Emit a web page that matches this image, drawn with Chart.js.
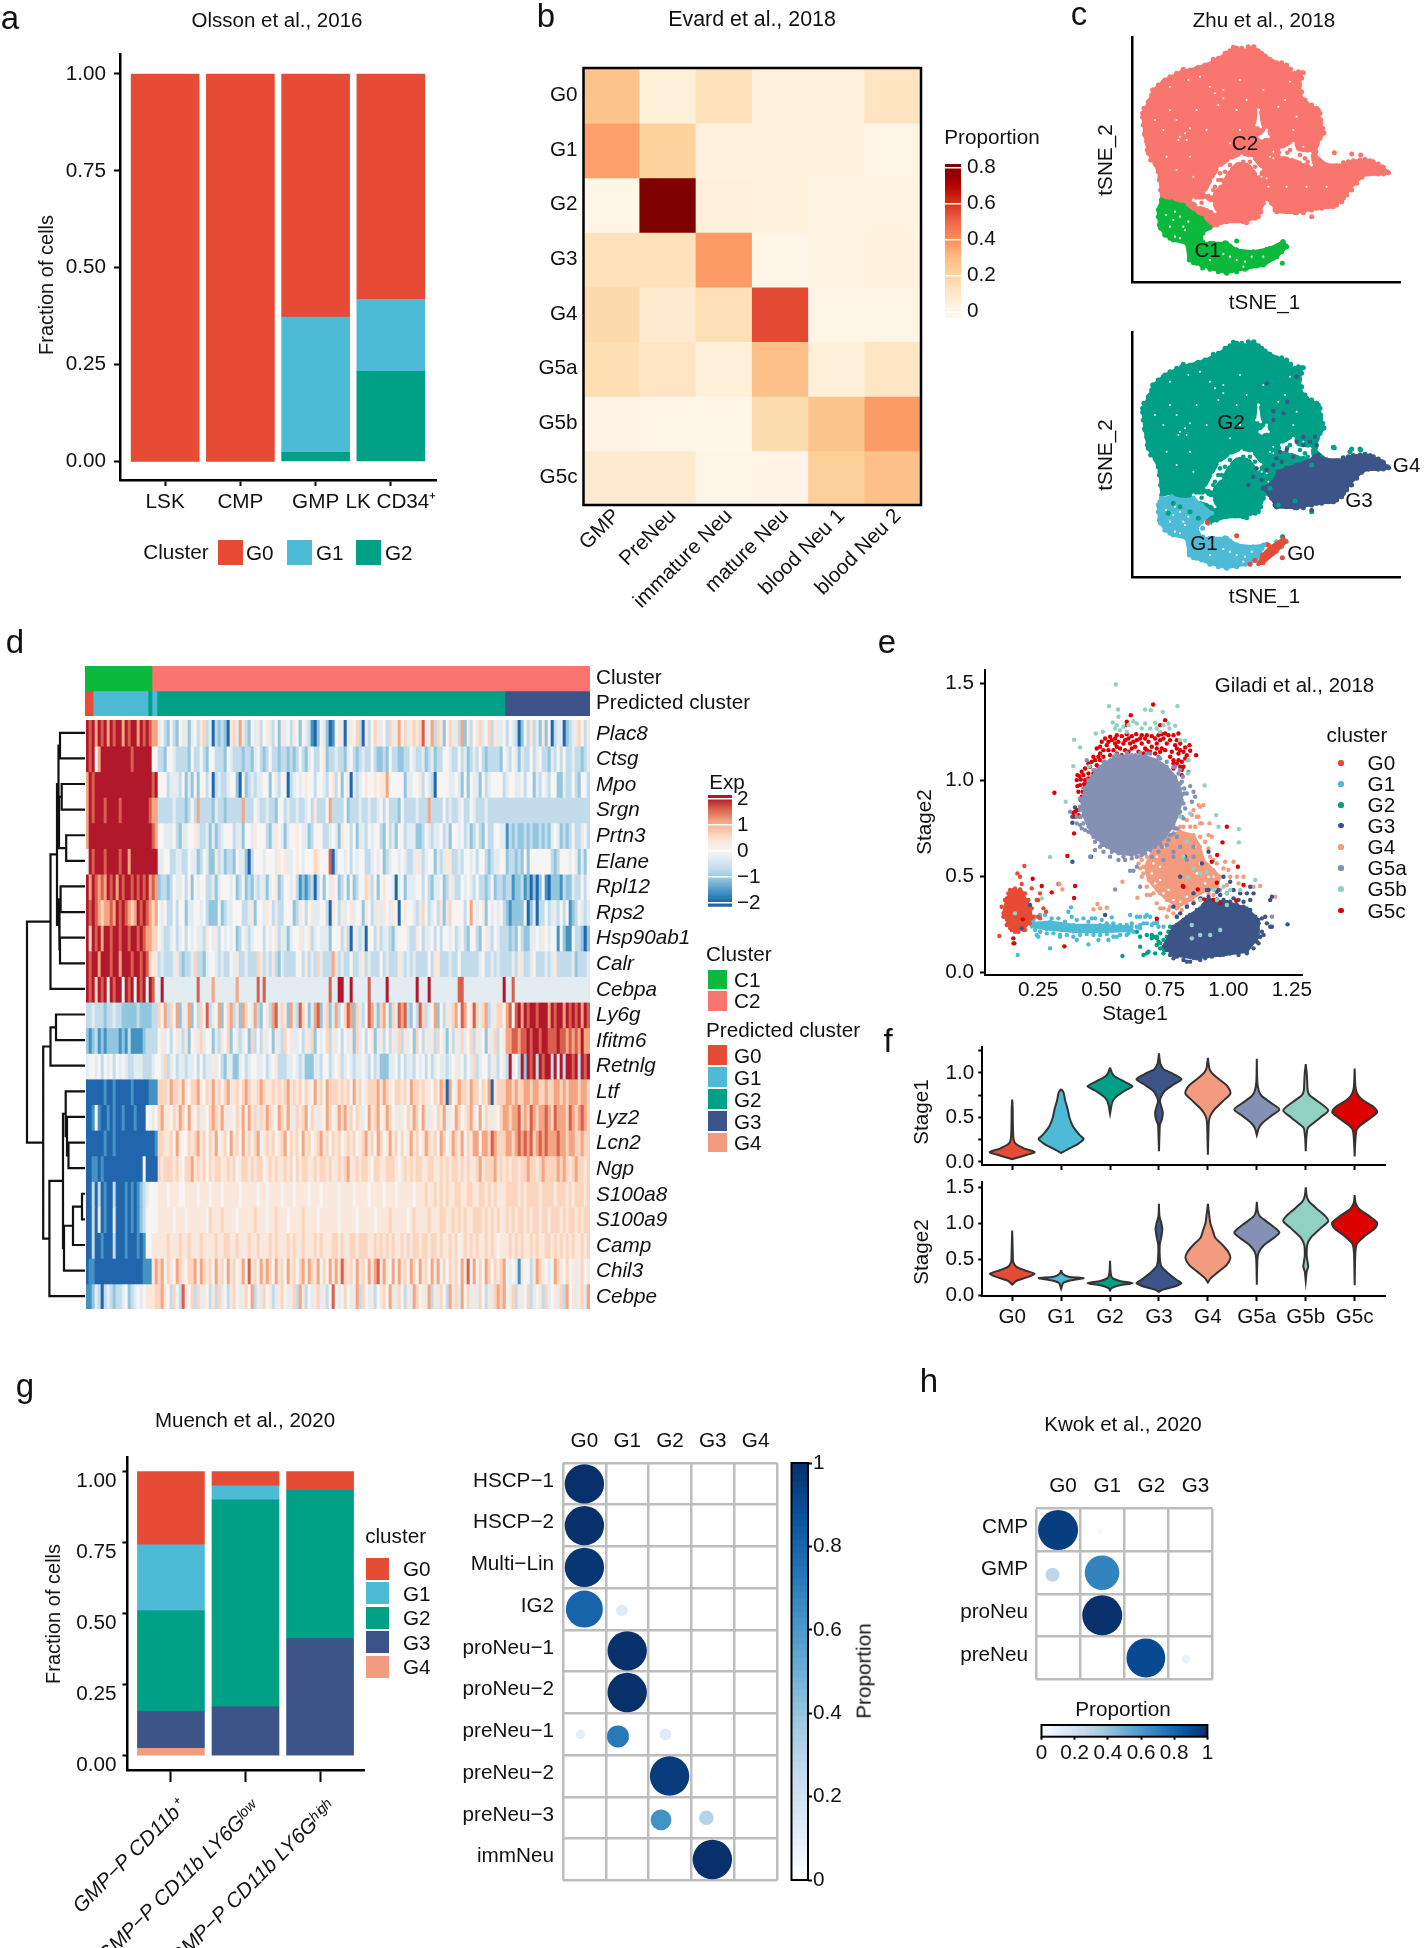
<!DOCTYPE html>
<html><head><meta charset="utf-8">
<script src="https://cdn.jsdelivr.net/npm/chart.js@4"></script>
<style>
html,body{margin:0;background:#fff;width:1424px;height:1948px;overflow:hidden}
canvas{position:absolute;left:0;top:0;pointer-events:none}
.t{position:absolute;white-space:nowrap;color:#111;font-family:"Liberation Sans",Arial,sans-serif;line-height:1;z-index:50}
.s{position:absolute;z-index:50}
</style></head><body>
<script>
/* ---------- palette ---------- */
const NPG={G0:'#E64B35',G1:'#4DBBD5',G2:'#00A087',G3:'#3C5488',G4:'#F39B7F',G5a:'#8491B4',G5b:'#91D1C2',G5c:'#DC0000'};
const C1col='#0DB93C',C2col='#F8766D';

/* ---------- panel a ---------- */
const aCategories=['LSK','CMP','GMP','LK CD34⁺'];
const aG0=[1,1,0.627,0.582];
const aG1=[0,0,0.349,0.185];
const aG2=[0,0,0.024,0.233];

/* ---------- panel b ---------- */
const bCols=['GMP','PreNeu','immature Neu','mature Neu','blood Neu 1','blood Neu 2'];
const bRows=['G0','G1','G2','G3','G4','G5a','G5b','G5c'];
const bValues=[
[.27,.05,.13,.04,.04,.12],
[.36,.20,.04,.04,.035,.015],
[.01,.80,.05,.04,.025,.03],
[.13,.13,.37,.01,.03,.035],
[.17,.08,.14,.55,.015,.015],
[.15,.11,.05,.28,.05,.11],
[.02,.01,.01,.16,.26,.37],
[.08,.08,.015,.02,.22,.28]];

/* ---------- panel c (t-SNE coordinates) ---------- */
const cC2=[[320,55],[345,62],[370,52],[395,70],[430,95],[470,108],[490,135],[515,128],[508,165],[510,195],[530,220],[565,240],[572,280],[580,310],[562,340],[555,375],[590,405],[640,405],[670,392],[720,392],[755,410],[775,428],[745,432],[700,435],[660,475],[640,505],[610,530],[560,535],[500,548],[440,545],[420,510],[405,505],[385,560],[340,575],[290,575],[240,592],[215,565],[190,550],[160,525],[125,505],[95,510],[90,440],[75,400],[55,370],[45,315],[38,250],[60,210],[70,180],[105,150],[155,125],[200,115],[250,95],[290,70]];
const cEdgeMain=[[300,62],[310,52],[335,55],[355,50],[372,50],[385,62],[405,78],[420,88],[440,98],[455,98],[470,105],[482,118],[495,130],[505,125],[520,128],[515,145],[508,160],[515,185],[525,210],[545,225],[560,235],[570,250],[572,270],[578,295],[582,308],[570,325],[560,345],[558,365],[412,505],[400,520],[392,545],[375,565],[350,578],[315,572],[280,575],[260,585],[240,590],[98,505],[92,480],[88,450],[85,425],[78,405],[62,390],[52,360],[50,335],[44,310],[40,285],[38,262],[42,235],[55,215],[65,195],[68,180],[85,165],[100,155],[120,140],[140,130],[160,118],[180,120],[205,112],[225,105],[250,88],[265,85],[285,70]];
const cEdgeTail=[[565,390],[580,402],[600,408],[620,408],[640,398],[655,395],[690,390],[705,388],[730,395],[745,402],[760,412],[772,425],[760,432],[735,430],[715,432],[695,442],[680,460],[665,480],[650,495],[635,515],[620,525],[595,530],[575,535],[545,540],[520,548],[495,548],[470,545],[450,540],[435,540],[425,520]];
const cOut=[[613,368],[665,372],[692,375],[640,410],[545,560],[45,312],[75,390],[130,500]];
const cHole1=[[335,378],[365,385],[392,418],[385,432],[358,398],[322,393],[295,418],[272,460],[245,492],[230,488],[250,450],[270,415],[302,392]];
const cHole2=[[385,240],[392,290],[380,285]];
const cHole3=[[455,360],[490,340],[500,365],[540,370],[545,405],[520,395],[480,380],[455,375]];
const cHole4=[[190,510],[225,510],[245,520],[255,545],[240,535],[205,525]];
const cHole5=[[390,320],[410,300],[415,320],[395,325]];
const cHoleDots=[[270,430],[285,425],[265,450],[255,470],[275,450],[300,405],[340,395],[360,395],[375,410],[250,480],[480,360],[525,385],[510,375],[215,518],[472,368],[533,395]];
const cSpecks=[[150,320],[165,310],[180,295],[280,180],[265,225],[140,270],[240,170],[175,150],[120,170],[480,155],[430,365],[420,380],[395,440],[410,445],[465,210],[180,380],[300,340],[505,380],[520,350],[280,205],[170,330],[145,330],[385,265],[430,385],[210,140],[255,190],[330,150],[400,180],[445,230],[500,260],[120,240],[100,300],[75,270],[200,240],[320,240],[350,210],[110,380],[140,420],[190,440],[415,470],[470,470],[530,470],[590,470],[230,300],[330,300],[490,300]];
const cC1=[[95,510],[125,515],[160,525],[190,550],[215,565],[240,592],[215,610],[215,640],[250,640],[290,640],[320,660],[370,665],[420,655],[460,635],[470,650],[440,680],[400,705],[350,715],[290,728],[240,715],[200,700],[178,690],[170,640],[130,630],[105,615],[88,585],[85,540]];
const cC1Edge=[[90,530],[85,560],[92,595],[105,615],[120,625],[160,630],[175,650],[178,680],[190,698],[215,705],[240,718],[265,725],[290,730],[320,725],[345,718],[380,708],[405,700],[430,685],[455,665],[468,648],[458,635],[440,650],[410,658],[385,668],[350,668],[320,660],[300,648],[285,638],[265,645],[240,640],[218,635],[218,610],[235,595]];
const cC1Out=[[320,633],[218,714],[457,700]];
const cC1Specks=[[135,620],[150,625],[165,600],[175,575],[160,590],[130,570],[300,680],[340,710],[280,672],[135,545],[120,590],[150,560],[240,690],[365,680],[345,695],[320,690],[400,680],[108,555]];
const cG1=[[95,520],[125,515],[160,525],[190,520],[215,540],[245,565],[215,590],[200,610],[215,640],[250,640],[290,640],[320,660],[370,665],[400,660],[395,690],[360,715],[290,728],[240,715],[200,700],[178,690],[170,640],[130,630],[105,615],[88,585],[85,540]];
const cG2Dots=[[610,367],[660,380],[690,372],[445,540],[495,528],[420,490],[545,420],[520,400],[115,565],[150,545],[180,560],[205,580],[130,535],[458,635]];
const cG3=[[555,395],[590,405],[640,405],[670,392],[720,392],[755,410],[775,428],[745,432],[700,435],[660,475],[640,505],[610,530],[560,535],[500,548],[440,545],[420,510],[400,490],[430,470],[445,440],[470,430],[500,420],[530,410]];
const cG3Dots=[[410,175],[500,155],[472,230],[460,265],[430,258],[430,285],[520,335],[555,335],[500,350],[450,380],[470,375],[440,400],[380,430],[355,480],[370,455],[395,465],[520,360],[560,360],[545,555],[430,420],[455,410],[490,395],[410,435],[540,350]];
const cG0=[[460,640],[470,650],[440,680],[400,715],[385,718],[395,690],[420,665]];
const cG0Dots=[[320,632],[457,698],[415,660],[360,718],[375,706],[232,592]];

/* ---------- panel d ---------- */
const dGenes=['Plac8','Ctsg','Mpo','Srgn','Prtn3','Elane','Rpl12','Rps2','Hsp90ab1','Calr','Cebpa','Ly6g','Ifitm6','Retnlg','Ltf','Lyz2','Lcn2','Ngp','S100a8','S100a9','Camp','Chil3','Cebpe'];
/* one character per column (3 px-wide block of cells) : level index into dLevels */
const dLevels={'0':-2,'1':-1.6,'2':-1.1,'3':-.7,'4':-.3,'5':0,'6':.3,'7':.6,'8':1.1,'9':1.6,'r':2};
const fit=(s,n)=>s.padEnd(n,s).slice(0,n);
const dRowParts=[
["r9r8r9r8r9rr8r9rr8r9r988","453253254624536734032320674863254635643526453652543102542015640465730635764537468574676794683762574638263567457364","354302536342625034402346753657"],
["r9r58rrrrrrrrrr9rrrrrr55","3325543333253353255333254333233245323533233232353245335623343324532343353223253322335433423423355433534234353233","4354243353453324353533433234335"],
["8r9rrrrrrrrrrrrrrrrrrr9r","5553444352425255350343345520523434455254355034545655355435635254043456556566855555244556354305555445425254425345","4554453552435435522433532553543"],
["8r9rrr9rrrr9rrrrrrrrr988","3333343332353833332433233333833354334332553433433453633358333352333433433453533325333343338333353433453354333433","3333333333333333333333333333"],
["8rrrrrrrrrrrrrrrrrrrrr98","5544453244556433424234555344255465553246542455654423555334542655352443545532534255344422354344534255453423532533","1323223232232324542323533453234"],
["5r9rrr9rrrr9rr8rrrrrrrrr","4455334433544235422634233254420355545554656445654555765559035545354553345452345545433464345524346633435545355323","2332325255555553235554542425544"],
["r8r9898r9r8r9rr9r9r9r898","2332354453525455334245554523523243442456235545312123035254652352523557635256554045244455353244523643354543533235","3312231202025102221322433535334"],
["r9r9878898r9r9878r9r9878","5453353552445545322252344555334625546534335552365356445530653645645526534646546505655434753453624755553585456254","2122225024033534435351235434245"],
["r7r9r8rr9rr9rr9rr9r98877","5433453453545443654635454523543455535456344245564563454442555363064340553634432455543365344535355453453255325643","3232532244546545515211533202435"],
["r9rr8rrr9rr8rrr9rr9r9766","3433346323347332455434335463343337634363243333553634374333863433533463433353433364343433335366333433533333345334","3343643345333434633333423334343"],
["r9r7r9r5r9rr5r9r5r9r5r95","4r44444444444944448444444484444449494444444444444444444449"+"44rr44r44444944444r444444444r444r44444444499444444444444","4494444444444444444444444444494444444"],
["334333233433222223222233","758375824682537593458257836287548325638947628439752489267248357982743598427852749893253973458253647859856974783467","8959r8r9rr9rrr8r9rr8r9r9r8r9"],
["212312122221213111123333","564535643625647455243657254345273536452643756445364725457364535462745356246353647364527536463754253647457364526473","8899899r9rr9rr999r9989898r88"],
["455453545354543344433345","547345344344535344645324422453455445345633344543422244355345634543445435342224453534435453534544345645354734553643","3r453r2r9r3r9rr3r4r3rr9r3r9r"],
["000000100100000100000111","777687768657786576867578667578766787667676786767576586758777676758675677786876577675877676657687085687768775768067","8878778878877877887878887887"],
["001510010100100010005545","786657687586574657876864657685867476876587686476785764658756878675764586785687564657687586465768465875678658576465","8788978798788987988879878987"],
["000000100100000000000001","776675865576786757685675867586757856767567857675867567867576756767567867587568675756867568767587568768576885887987","8878989897898988898878877877"],
["001101000000000000050000","767776765778676757677667675677676775676766767576776676776766767866767765776677765676767766776676767767676678677786","7677677877678777787876787767"],
["003030100300010101234555","666566655666656665666566666566666566566665666566665666566666566665666656666566656666656667667676766776677667767676","7777676777767777677767677767"],
["003040100400010101235555","666665666566666657666766665666667666566766656666766665666666566666566666566667666665676666766677667676766777676767","7676776767767767776767767677"],
["003001000300010001015566","666766676676667666676677667666766766676766676766766676766677676677677766767676766767677677677676676756767676676765","6767676676766776767676766767"],
["011000000000000000011168","785765876577858767586758675685967586875867586757858768575868697675867586896865858675875867586857576758695857587576","5454165536876545876575646756"],
["112430343233452345456667","786537539657374653637453675467583647563467546738635467463595457546837546356758647536487564836475386748574647536478","5673645734563745647385646748"]
];
const dRows=dRowParts.map(([l,m,g])=>fit(l,24)+fit(m,116)+fit(g,28));
/* cell-count segments of the two annotation strips */
const dCluster=[['C1',0,67,C1col],['C2',67,505,C2col]];
const dPredicted=[['G0',0,8,NPG.G0],['G1',8,63,NPG.G1],['G2',63,67,NPG.G2],['G1',67,72,NPG.G1],['G2',72,420,NPG.G2],['G3',420,505,NPG.G3]];
/* dendrogram: [merge height, left, right], leaves are gene indices */
const dTree=[58,
 [34.5,[28,[26.5,[25,0,1],[26,[23.3,2,3],[18.8,4,5]]],[26,[24.4,6,7],[25,8,9]]],10],
 [41.8,[34.5,[29,11,12],13],
  [35.6,[22,[19.3,14,[18,15,[16.5,16,17]]],[21,[12,[3,18,19],20],21]],22]]];

/* ---------- panel e (positions, converted below) ---------- */
const ePoly={
G5a:[[515,285],[555,288],[590,300],[620,320],[645,350],[660,385],[665,420],[655,460],[640,495],[615,530],[585,560],[550,575],[515,585],[475,580],[440,560],[410,535],[385,500],[370,465],[365,425],[375,385],[395,350],[420,320],[450,300],[480,288]],
G3:[[740,720],[800,725],[860,745],[895,780],[895,830],[860,875],[790,885],[700,895],[640,885],[610,860],[640,800],[680,770],[720,745]],
G4:[[620,530],[660,515],[700,525],[720,560],[730,600],[760,630],[780,650],[770,680],[720,700],[690,720],[655,740],[620,720],[590,690],[565,660],[555,620],[575,575],[600,545]],
G0:[[160,690],[185,695],[210,740],[215,775],[190,810],[150,805],[130,760],[140,715]],
G1:[[210,790],[270,785],[340,795],[420,795],[515,800],[515,812],[440,815],[340,815],[260,808],[215,800]]};
const eG4Gaps=[[590,590],[575,640],[600,660],[585,670],[705,560],[720,610],[745,650],[640,720],[610,700],[700,700],[680,710],[610,560],[735,670],[760,650],[600,620],[710,640],[580,610],[625,690],[660,725]];
const eDots={
G5b:[[467,73],[447,138],[474,148],[555,148],[572,150],[608,155],[652,138],[475,170],[458,187],[505,195],[520,183],[530,190],[555,190],[585,188],[610,195],[645,197],[465,205],[480,210],[500,215],[570,205],[600,215],[628,205],[407,220],[428,215],[342,239],[360,262],[675,242],[340,318],[388,318],[317,425],[685,300],[683,340],[733,376],[768,465],[775,500],[836,507],[836,547],[270,591],[885,660],[683,652],[700,625],[720,640],[740,635],[680,545],[670,590],[760,690],[790,680],[810,690],[770,720],[720,720],[800,735],[695,795],[750,825],[780,810],[720,825],[695,835],[165,760],[245,715],[660,470],[690,460],[800,700],[840,690],[490,200],[470,195],[545,205],[590,205],[625,190],[660,240]],
G5a:[[660,370],[672,385],[690,378],[700,395],[680,400],[705,410],[665,405],[695,425],[675,445],[660,455],[670,475],[650,505],[640,520],[625,540],[605,560],[595,575],[575,590],[555,580],[530,590],[515,595],[495,600],[475,600],[450,590],[430,575],[420,560],[405,570],[390,590],[375,510],[360,495],[350,490],[330,455],[365,505],[350,470],[360,450],[380,300],[400,330],[645,320],[660,330],[668,350],[685,335],[683,300],[510,632],[520,632],[465,688],[540,680],[935,770],[700,590],[680,600],[640,575],[640,590],[610,600],[660,560],[700,560],[530,620],[410,510],[395,520],[430,555],[405,545],[620,555],[650,530],[525,285],[470,283],[560,280],[600,295],[435,305],[360,440],[362,470],[370,490],[385,515],[400,530],[425,550],[455,575],[490,590],[545,585],[570,570],[600,550],[630,525],[645,505],[665,470],[670,430],[672,400],[665,365],[655,340],[640,320],[620,305],[595,290],[570,280],[540,278],[500,278],[460,290],[430,305],[405,330],[385,360],[370,385],[360,415]],
G5c:[[410,265],[420,260],[430,270],[440,255],[445,245],[455,240],[465,235],[475,245],[470,260],[460,270],[480,265],[490,250],[495,240],[505,235],[510,250],[520,245],[515,265],[530,240],[540,235],[545,250],[555,235],[560,225],[565,245],[575,260],[570,275],[585,235],[590,250],[600,240],[610,235],[615,220],[625,225],[620,250],[630,240],[605,265],[585,280],[555,265],[535,275],[495,270],[470,280],[450,285],[430,290],[650,265],[660,270],[670,275],[680,285],[655,280],[640,300],[630,290],[660,320],[665,330],[640,325],[420,300],[405,300],[410,315],[395,305],[390,320],[400,340],[385,340],[370,345],[358,348],[375,360],[385,355],[360,375],[375,380],[392,370],[368,395],[385,395],[378,410],[365,410],[372,430],[380,440],[355,465],[340,458],[345,470],[425,245],[435,235],[450,230],[470,225],[485,228],[500,222],[515,228],[528,222],[545,225],[575,228],[595,225],[605,222],[640,225],[650,240],[645,255],[660,250],[675,262],[690,272],[675,295],[665,305],[650,310],[635,275],[615,270],[600,275],[590,265],[560,270],[550,280],[525,260],[505,275],[485,285],[465,250],[445,270],[420,280],[415,290],[400,290],[385,310],[375,325],[365,335],[352,345],[350,360],[362,358],[372,372],[352,378],[380,372],[395,355],[405,345],[415,320],[355,395],[362,420],[375,445],[385,425],[395,400],[345,455],[352,450],[360,470],[430,545],[440,555],[420,525],[405,520],[640,310],[655,300],[665,345],[670,320],[579,133],[512,165],[500,185],[615,180],[600,195],[500,195],[655,220],[688,255],[708,285],[283,398],[322,588],[800,500],[787,547],[771,585],[755,605],[833,620],[770,668],[713,688],[850,675],[780,730],[732,718],[670,680],[345,678],[218,656],[245,678],[275,697],[313,859],[342,714],[342,520],[415,535],[668,678],[828,722],[760,720],[160,835],[163,850],[188,778],[590,776]],
G3:[[620,870],[630,885],[650,890],[670,900],[690,905],[710,895],[735,892],[755,890],[780,885],[810,880],[835,885],[860,880],[880,865],[890,845],[900,830],[905,815],[895,790],[885,770],[870,750],[850,740],[830,735],[810,725],[790,720],[770,718],[750,720],[730,735],[710,750],[690,765],[670,780],[650,795],[635,815],[625,840],[615,855],[700,700],[740,690],[770,695],[800,700],[820,690],[840,700],[860,700],[880,700],[870,720],[820,715],[850,725],[905,775],[915,770],[920,790],[930,800],[910,825],[895,850],[660,760],[680,740],[700,730],[650,770],[720,715],[745,710],[780,705],[337,605],[393,590],[337,470],[337,488],[345,442],[435,765],[982,793],[935,710],[930,720],[935,800],[870,680],[835,720],[810,665],[790,650],[745,575],[725,610],[660,650],[675,590],[640,740],[745,690],[775,690],[185,805],[210,735],[680,905],[720,900],[640,895]],
G4:[[545,600],[560,590],[550,640],[540,625],[560,680],[580,700],[570,705],[590,730],[610,745],[625,750],[640,760],[650,745],[665,750],[680,735],[700,725],[725,715],[745,700],[760,705],[780,690],[800,675],[810,650],[790,625],[770,610],[750,590],[745,565],[735,545],[720,530],[745,525],[725,490],[715,470],[695,465],[680,480],[670,500],[655,510],[640,505],[690,500],[705,500],[720,440],[730,435],[700,450],[487,665],[532,713],[560,705],[600,745],[620,770],[650,770],[720,490],[748,490],[710,470],[755,530],[655,465],[715,435],[660,500],[760,600],[795,605],[820,605],[830,650],[850,650],[880,680],[900,678],[945,710],[805,630],[835,670],[540,590],[550,620],[535,610],[545,650],[600,700],[630,740],[298,672],[307,688],[400,748],[412,732],[420,745],[440,743],[600,530],[585,550],[570,565]],
G2:[[620,830],[590,830],[565,875],[585,880],[560,880],[600,850],[540,860],[600,820],[530,815],[560,825],[580,830],[612,870],[487,888],[575,835],[595,845],[610,840],[640,825],[655,825],[735,895],[575,825],[590,835],[600,865],[610,880],[550,885],[540,830],[590,855],[625,815],[630,800]],
G1:[[173,885],[270,865],[385,853],[415,840],[235,830],[230,825],[333,742],[325,755],[395,775],[455,772],[510,765],[540,770],[560,765],[590,790],[610,800],[530,800],[550,790],[575,795],[505,820],[540,805],[300,830],[350,840],[445,840],[470,830],[240,765],[225,770],[210,790],[220,780],[240,770],[255,765],[275,775],[295,775],[315,785],[335,770],[350,780],[370,775],[385,785],[405,775],[425,780],[440,790],[460,790],[480,795],[500,795],[515,790],[520,815],[500,825],[480,825],[460,830],[440,822],[420,825],[400,825],[380,822],[360,825],[340,830],[320,825],[300,825],[280,820],[260,820],[240,815],[225,810],[540,795],[560,790],[580,790],[595,800],[530,770],[555,770],[570,770],[590,785]],
G0:[[150,690],[165,685],[180,688],[195,700],[205,720],[215,745],[220,770],[210,790],[195,810],[175,815],[155,810],[140,795],[130,770],[125,740],[135,720],[145,700],[193,618],[172,640],[180,650],[185,672],[215,685],[240,700],[235,720],[250,745],[258,755],[235,770],[118,828],[160,850],[165,815],[230,720],[212,745],[295,672],[240,775]]};
const eClusters=['G0','G1','G2','G3','G4','G5a','G5b','G5c'];

/* ---------- panel f : violin profiles [stage value, half width] ---------- */
const fStage1={
G0:[[.70,0],[.6,.01],[.4,.015],[.25,.03],[.2,.08],[.15,.25],[.11,.46],[.08,.3],[.05,.12],[.03,0]],
G1:[[.82,0],[.78,.05],[.7,.08],[.6,.13],[.5,.17],[.4,.24],[.3,.38],[.26,.46],[.2,.34],[.15,.16],[.11,.03],[.1,0]],
G2:[[1.06,0],[1.0,.04],[.96,.1],[.9,.3],[.85,.46],[.8,.3],[.72,.1],[.66,.04],[.54,0]],
G3:[[1.22,0],[1.1,.03],[1.04,.1],[1.0,.25],[.93,.46],[.87,.3],[.8,.12],[.73,.04],[.68,.02],[.6,.06],[.55,.08],[.48,.06],[.42,.02],[.3,.01],[.12,0]],
G4:[[1.17,0],[1.05,.03],[1.0,.08],[.92,.25],[.85,.4],[.77,.46],[.7,.34],[.6,.15],[.52,.05],[.45,.02],[.3,.01],[.08,0]],
G5a:[[1.16,0],[.9,.01],[.8,.04],[.74,.1],[.66,.3],[.59,.46],[.52,.3],[.44,.12],[.38,.04],[.3,0]],
G5b:[[1.1,0],[1.0,.02],[.9,.03],[.8,.04],[.75,.08],[.68,.25],[.58,.46],[.5,.3],[.42,.12],[.38,.04],[.25,.01],[.12,0]],
G5c:[[1.05,0],[.85,.015],[.77,.05],[.7,.15],[.63,.36],[.56,.46],[.5,.34],[.42,.14],[.36,.04],[.2,.01],[.06,0]]};
const fStage2={
G0:[[.9,0],[.6,.012],[.47,.02],[.4,.08],[.35,.25],[.3,.46],[.25,.3],[.2,.08],[.15,0]],
G1:[[.35,0],[.3,.03],[.26,.15],[.24,.46],[.21,.2],[.17,.04],[.09,0]],
G2:[[.48,0],[.3,.015],[.24,.05],[.2,.2],[.17,.46],[.14,.2],[.1,.03],[.07,0]],
G3:[[1.27,0],[1.1,.01],[1.0,.05],[.92,.07],[.82,.05],[.7,.015],[.5,.02],[.4,.05],[.3,.2],[.22,.35],[.17,.46],[.12,.3],[.08,.08],[.05,0]],
G4:[[1.27,0],[1.1,.03],[1.0,.05],[.9,.1],[.8,.15],[.7,.3],[.6,.42],[.52,.46],[.42,.38],[.32,.2],[.24,.06],[.18,0]],
G5a:[[1.3,0],[1.18,.015],[1.1,.06],[1.0,.25],[.92,.4],[.87,.46],[.8,.35],[.7,.15],[.6,.04],[.5,.012],[.15,0]],
G5b:[[1.5,0],[1.38,.02],[1.3,.07],[1.2,.23],[1.1,.4],[1.03,.46],[.93,.3],[.8,.1],[.7,.03],[.55,.02],[.45,.04],[.4,.05],[.33,.02],[.2,0]],
G5c:[[1.39,0],[1.28,.02],[1.2,.09],[1.1,.3],[1.02,.45],[.98,.46],[.92,.4],[.82,.2],[.72,.05],[.6,.015],[.14,0]]};

/* ---------- panel g ---------- */
const gCategories=['GMP−P CD11b⁺','GMP−P CD11b LY6Gˡᵒʷ','GMP−P CD11b LY6Gʰⁱᵍʰ'];
const gG0=[.258,.05,.066];
const gG1=[.231,.049,0];
const gG2=[.356,.729,.522];
const gG3=[.129,.172,.412];
const gG4=[.026,0,0];
const gDotCols=['G0','G1','G2','G3','G4'];
const gDotRows=['HSCP−1','HSCP−2','Multi−Lin','IG2','proNeu−1','proNeu−2','preNeu−1','preNeu−2','preNeu−3','immNeu'];
/* [column, row, proportion, radius] */
const gDots=[[0,0,1,19.7],[0,1,1,19.7],[0,2,.98,19.7],[0,3,.8,18.5],[.876,3.03,.12,5.9],[1,4,1,19.7],[1,5,1,19.7],
[-.09,6,.1,4.8],[.784,6.05,.72,11],[1.895,6,.13,5.9],[1.99,7,.96,19.7],[2.93,7.03,.02,2],[1.79,8.05,.62,10.4],[2.85,8,.3,7.3],[-.02,8,.02,1.5],[2.99,9,1,19.7],[-.02,9,.02,1.5],[.95,2,.02,1.5],[-.05,4,.01,1.2]];

/* ---------- panel h ---------- */
const hCols=['G0','G1','G2','G3'];
const hRows=['CMP','GMP','proNeu','preNeu'];
const hDots=[[0,0,.95,20],[.949,.02,.03,3],[-.126,1.05,.28,7],[.996,1,.68,17.3],[1,2,1,20],[1.988,3,.9,19.4],[2.9,3.03,.08,4.4]];

/* ---------- helpers ---------- */
const FS=20.7,TS=20.5;
Chart.defaults.font.family='"Liberation Sans",Arial,sans-serif';
Chart.defaults.font.size=FS;
Chart.defaults.color='#111';
const W=1424,H=1948;
const hex=c=>[parseInt(c.slice(1,3),16),parseInt(c.slice(3,5),16),parseInt(c.slice(5,7),16)];
function ramp(stops,v){
  if(v<=stops[0][0])return stops[0][1];
  for(let i=1;i<stops.length;i++){
    if(v<=stops[i][0]){
      const t=(v-stops[i-1][0])/(stops[i][0]-stops[i-1][0]),a=hex(stops[i-1][1]),b=hex(stops[i][1]);
      return 'rgb('+a.map((x,k)=>Math.round(x+(b[k]-x)*t)).join(',')+')';
    }
  }
  return stops[stops.length-1][1];
}
const OrRd=[[0,'#fff7ec'],[.1,'#fee8c8'],[.2,'#fdd49e'],[.3,'#fdbb84'],[.4,'#fc8d59'],[.5,'#ef6548'],[.6,'#d7301f'],[.7,'#b30000'],[.8,'#7f0000']];
const Blues=[[0,'#ffffff'],[.125,'#deebf7'],[.25,'#c6dbef'],[.375,'#9ecae1'],[.5,'#6baed6'],[.625,'#4292c6'],[.75,'#2171b5'],[.875,'#08519c'],[1,'#08306b']];
const RdBu=[[-2,'#2166ac'],[-1.6,'#4393c3'],[-1.1,'#92c5de'],[-.7,'#c3dcec'],[-.3,'#e3ecf1'],[0,'#f7f5f3'],[.3,'#fbe8dd'],[.6,'#fcd5bf'],[1.1,'#f4a582'],[1.6,'#d6604d'],[2,'#b2182b']];

function txt(s,x,y,o={}){
  const d=document.createElement('div');d.className='t';d.textContent=s;
  d.style.left=x+'px';d.style.top=y+'px';d.style.fontSize=(o.size||FS)+'px';
  if(o.italic)d.style.fontStyle='italic';
  const tx=o.align==='left'?'0':o.align==='right'?'-100%':'-50%';
  d.style.transform='translate('+tx+',-50%)'+(o.rot?' rotate('+o.rot+'deg)':'');
  document.body.appendChild(d);
}
function sq(x1,y1,x2,y2,c){
  const d=document.createElement('div');d.className='s';
  d.style.cssText+='left:'+x1+'px;top:'+y1+'px;width:'+(x2-x1)+'px;height:'+(y2-y1)+'px;background:'+c;
  document.body.appendChild(d);
}
function dot(x,y,r,c){sq(x-r,y-r,x+r,y+r,c);document.body.lastChild.style.borderRadius='50%';}

const framePlugin={id:'frame',afterDraw(ch,_,o){
  if(!o||!o.color)return;const a=ch.chartArea,c=ch.ctx;c.save();c.strokeStyle=o.color;c.lineWidth=o.width||2;
  c.strokeRect(a.left,a.top,a.right-a.left,a.bottom-a.top);c.restore();}};
Chart.register(framePlugin);

function linAxis(min,max,vals,labels,o={}){
  const g=o.grid||{drawOnChartArea:false,drawTicks:(o.tick??6)>0,tickLength:o.tick??6,tickColor:'#000',tickWidth:2};
  g.offset=false;
  return {type:'linear',min,max,offset:false,reverse:!!o.reverse,position:o.position,display:true,
    afterBuildTicks:s=>{s.ticks=vals.map(v=>({value:v}));},
    ticks:{autoSkip:false,display:labels!==null,minRotation:o.rot||0,maxRotation:o.rot||0,padding:o.padding??6,labelOffset:o.labelOffset||0,
      color:'#111',font:{size:o.size||FS,style:o.italic?'italic':'normal'},callback:(v,i)=>labels?labels[i]:''},
    grid:g,
    border:o.noBorder?{display:false}:{display:true,color:'#000',width:o.line||2.5}};
}
function hidden(min,max,o={}){return {type:'linear',min,max,reverse:!!o.reverse,display:false,offset:false};}
function plot(box,type,data,scales,extra={}){
  const c=document.createElement('canvas');c.width=W;c.height=H;c.style.width=W+'px';c.style.height=H+'px';
  document.body.appendChild(c);
  const pad={left:box.l,right:W-box.r,top:box.t,bottom:H-box.b};
  for(const k in scales){
    const s=scales[k],horiz=k[0]==='x';
    if(s.display===false)continue;
    const p=s.position||(horiz?'bottom':'left');s.position=p;
    const size=Math.min(pad[p],300);
    pad[p]-=size;
    s.afterFit=sc=>{if(sc.isHorizontal())sc.height=size;else sc.width=size;sc.paddingLeft=sc.paddingRight=sc.paddingTop=sc.paddingBottom=0;};
  }
  return new Chart(c,{type,data,options:Object.assign({responsive:false,animation:false,devicePixelRatio:1,
    layout:{padding:pad},scales,
    plugins:Object.assign({legend:{display:false},tooltip:{enabled:false},title:{display:false}},extra.plugins||{})},
    extra.indexAxis?{indexAxis:extra.indexAxis}:{})});
}
const pts=a=>a.map(([x,y])=>({x,y}));
const closed=a=>pts(a.concat([a[0]]));
function poly(a,col,r=2.5,lw=3){return {data:closed(a),showLine:true,fill:'shape',backgroundColor:col,borderColor:col,borderWidth:lw,pointRadius:r,pointBackgroundColor:col,pointBorderWidth:0,tension:0};}
function dots(a,col,r=2.5){return {data:pts(a),showLine:false,backgroundColor:col,borderWidth:0,pointRadius:r,pointBackgroundColor:col,pointBorderWidth:0};}
/* vertical or horizontal colour bar drawn as a stack of floating bars */
function colorbar(box,min,max,stops,vals,labels,o={}){
  const step=(max-min)/64,ds=[];
  for(let v=min;v<max-1e-9;v+=step){ds.push({data:[[v,v+step*1.15]],backgroundColor:ramp(stops,v+step/2),grouped:false,barPercentage:1,categoryPercentage:1});}
  const vAxis=linAxis(min,max,vals,labels,{padding:o.padding??4,tick:o.grid?0:(o.tick??4),grid:o.grid,noBorder:true,position:o.horizontal?'bottom':'right',size:o.size});
  const cat={type:'category',labels:['c'],display:false};
  const sc=o.horizontal?{x:vAxis,y:cat}:{x:cat,y:vAxis};
  return plot(box,'bar',{labels:['c'],datasets:ds},sc,{indexAxis:o.horizontal?'y':undefined,plugins:{frame:o.frame?{color:'#000',width:2}:{}}});
}

/* ---------- panel a ---------- */
{
  const xy=a=>a.map((y,i)=>({x:i+1,y}));
  const ds=[[aG2,NPG.G2],[aG1,NPG.G1],[aG0,NPG.G0]].map(([a,c])=>({data:xy(a),backgroundColor:c,barThickness:68,borderWidth:0}));
  const x=linAxis(.4,4.6,[1,2,3,4],aCategories,{padding:4});x.stacked=true;
  const y=linAxis(-.0477,1.0516,[0,.25,.5,.75,1],['0.00','0.25','0.50','0.75','1.00'],{padding:8});y.stacked=true;
  plot({l:120,r:436,t:54,b:480},'bar',{datasets:ds},{x,y});
  txt('a',10,17,{size:33});txt('Olsson et al., 2016',277,20,{size:TS});
  txt('Fraction of cells',46,285,{rot:-90,size:20});
  txt('Cluster',176,552);
  [['G0',218,246,NPG.G0],['G1',287,316,NPG.G1],['G2',356,385,NPG.G2]].forEach(([t,a,b,c])=>{sq(a,540,a+25,565,c);txt(t,b,553,{align:'left'});});
}
/* ---------- panel b ---------- */
{
  const ds=bRows.map((_,r)=>({data:bCols.map(()=>[r,r+1.01]),backgroundColor:bValues[r].map(v=>ramp(OrRd,v)),grouped:false,barPercentage:1,categoryPercentage:1}));
  const x={type:'category',labels:bCols,grid:{display:false,drawTicks:false},border:{display:false},
    ticks:{autoSkip:false,minRotation:45,maxRotation:45,padding:-1,labelOffset:5,color:'#111',font:{size:FS}}};
  const y=linAxis(0,8,bRows.map((_,i)=>i+.5),bRows,{reverse:true,tick:0,padding:6,noBorder:true});
  plot({l:583.5,r:921,t:68,b:505},'bar',{labels:bCols,datasets:ds},{x,y},{plugins:{frame:{color:'#000',width:2.5}}});
  txt('b',546,15,{size:33});txt('Evard et al., 2018',752,20,{size:21.4});
  txt('Proportion',992,137);
  const vals=[0,.2,.4,.6,.8],lab=['0','0.2','0.4','0.6','0.8'];
  colorbar({l:945,r:961,t:164,b:318},-.036,.82,OrRd,vals,lab,{padding:6,grid:{z:1,color:'#fff',lineWidth:1.5,borderDash:[4,8,4],drawOnChartArea:true,drawTicks:false}});
}
/* ---------- panel c ---------- */
{
  const ax=()=>({x:linAxis(7,810,[],null,{tick:0}),y:linAxis(21,758,[],null,{tick:0,reverse:true})});
  const w='#ffffff';
  const holes=[cHole1,cHole2,cHole3,cHole4,cHole5].map(h=>poly(h,w,1.5,1));
  const c2=C2col,g2=NPG.G2;
  plot({l:1132.3,r:1400,t:37,b:282.7},'scatter',{datasets:[dots(cC1Out,C1col),dots(cC1Specks,w,1.1),dots(cC1Edge,C1col),poly(cC1,C1col),dots(cHoleDots,c2,2.3),dots(cSpecks,w,1),...holes,dots(cEdgeMain,c2),dots(cEdgeTail,c2),dots(cOut,c2),poly(cC2,c2)]},ax());
  plot({l:1132.3,r:1400,t:332,b:577.7},'scatter',{datasets:[dots(cG0Dots,NPG.G0),poly(cG0,NPG.G0,2,2),dots(cG2Dots,g2),dots(cG3Dots,NPG.G3,2.2),dots(cEdgeTail,NPG.G3),poly(cG3,NPG.G3),dots(cC1Specks,w,1.1),dots(cC1Edge,NPG.G1),poly(cG1,NPG.G1),dots(cHoleDots,g2,2.3),dots(cSpecks,w,1),...holes,dots(cEdgeMain,g2),dots(cOut,g2),poly(cC2,g2)]},ax());
  txt('c',1079,13,{size:33});txt('Zhu et al., 2018',1264,20,{size:TS});
  txt('tSNE_2',1105,160,{rot:-90});txt('tSNE_2',1105,455,{rot:-90});
  txt('tSNE_1',1264.5,302);txt('tSNE_1',1264.5,596);
  const lab=(s,X,Y,top)=>txt(s,1130+X/3,top+Y/3);
  lab('C2',345,338,30);lab('C1',233,660,30);
  lab('G2',303,290,325);lab('G1',222,655,325);lab('G3',687,525,325);lab('G4',830,420,325);lab('G0',513,685,325);
}
/* ---------- panel d ---------- */
{
  const cols=Array.from({length:168},(_,i)=>i);
  const ds=dRows.map((s,r)=>({data:cols.map(()=>[r,r+1.02]),backgroundColor:cols.map(c=>ramp(RdBu,dLevels[s[c]]??0)),grouped:false,barPercentage:1,categoryPercentage:1}));
  const y=linAxis(0,23,dGenes.map((_,i)=>i+.5),dGenes,{reverse:true,tick:0,padding:6,noBorder:true,position:'right',italic:true,size:FS,labelOffset:1});
  plot({l:86,r:590,t:720,b:1309},'bar',{labels:cols,datasets:ds},{x:{type:'category',labels:cols,display:false},y});
  /* annotation strips */
  const strip=[];
  dCluster.forEach(([,a,b,c])=>strip.push({data:[[a,b],null],backgroundColor:c,grouped:false,barPercentage:1,categoryPercentage:1}));
  dPredicted.forEach(([,a,b,c])=>strip.push({data:[null,[a,b]],backgroundColor:c,grouped:false,barPercentage:1,categoryPercentage:1}));
  const yy={type:'category',labels:['Cluster','Predicted cluster'],position:'right',grid:{display:false,drawTicks:false},border:{display:false},ticks:{padding:6,autoSkip:false,color:'#111',font:{size:FS}}};
  plot({l:85,r:590,t:666,b:716},'bar',{labels:['Cluster','Predicted cluster'],datasets:strip},{x:hidden(0,505),y:yy},{indexAxis:'y'});
  /* dendrogram */
  const path=[];
  const walk=n=>{
    if(typeof n==='number')return {h:0,y:n+.5};
    const a=walk(n[1]),b=walk(n[2]);
    path.push({x:a.h,y:a.y},{x:n[0],y:a.y},{x:n[0],y:b.y},{x:b.h,y:b.y},{x:NaN,y:NaN});
    return {h:n[0],y:(a.y+b.y)/2};
  };
  walk(dTree);
  plot({l:25,r:85,t:720,b:1309},'scatter',{datasets:[{data:path,showLine:true,borderColor:'#111',borderWidth:2.2,pointRadius:0,tension:0,spanGaps:false}]},{x:hidden(0,60,{reverse:true}),y:hidden(0,23,{reverse:true})});
  txt('d',15,641,{size:33});
  txt('Exp',727,782);
  colorbar({l:708,r:732,t:795,b:906.7},-2.15,2.15,RdBu,[-2,-1,0,1,2],['−2','−1','0','1','2'],{padding:5,grid:{z:1,color:'#fff',lineWidth:1.5,borderDash:[6,12,6],drawOnChartArea:true,drawTicks:false}});
  txt('Cluster',706,954,{align:'left'});
  sq(707.6,969.7,727.3,989,C1col);txt('C1',734,980,{align:'left'});
  sq(707.6,991,727.3,1010.6,C2col);txt('C2',734,1001,{align:'left'});
  txt('Predicted cluster',706,1029.5,{align:'left'});
  [['G0',1045.4],['G1',1067.4],['G2',1089],['G3',1111],['G4',1132.5]].forEach(([g,t])=>{sq(707.6,t,727.3,t+19.7,NPG[g]);txt(g,734,t+10.5,{align:'left'});});
}
/* ---------- panel e ---------- */
{
  const conv=a=>a.map(([X,Y])=>[.25+(960+X/3-1038)/253.6,(972.7-(660+Y/3))/192.8]);
  const P=k=>poly(conv(ePoly[k]),NPG[k],2,2.5),D=(k,r=2.2)=>dots(conv(eDots[k]),NPG[k],r);
  const ds=[D('G5b'),D('G5a'),P('G5a'),D('G5c'),D('G3'),P('G3'),dots(conv(eG4Gaps),'#fff',1.3),D('G4'),P('G4'),D('G0'),P('G0'),D('G1'),P('G1'),D('G2')];
  const x=linAxis(.041,1.292,[.25,.5,.75,1,1.25],['0.25','0.50','0.75','1.00','1.25'],{tick:0,padding:3,line:2});
  const y=linAxis(-.012,1.571,[0,.5,1,1.5],['0.0','0.5','1.0','1.5'],{padding:6,tick:5,line:2});
  plot({l:985,r:1302.5,t:670,b:975},'scatter',{datasets:ds},{x,y});
  txt('e',887,641,{size:33});
  txt('Giladi et al., 2018',1294.5,685,{size:TS});
  txt('Stage2',924,822,{rot:-90});txt('Stage1',1135,1013);
  txt('cluster',1357,735);
  eClusters.forEach((g,i)=>{const t=[763,784,805,825.5,847,868,889,910.5][i];dot(1341,t,2.6,NPG[g]);txt(g,1367.6,t,{align:'left'});});
}
/* ---------- panel f ---------- */
{
  const vio=(prof)=>eClusters.map((g,i)=>{
    const p=prof[g],c=i+1;
    const right=p.map(([y,w])=>({x:c+w,y})),left=p.slice().reverse().map(([y,w])=>({x:c-w,y}));
    return {data:right.concat(left),showLine:true,fill:'shape',backgroundColor:NPG[g],borderColor:'#333',borderWidth:2,pointRadius:0,tension:.25};
  });
  const cx=[1,2,3,4,5,6,7,8];
  const x1=linAxis(.389,8.62,cx,null,{tick:5,line:2});
  const y1=linAxis(-.035,1.292,[0,.25,.5,.75,1,1.25],['0.0','','0.5','','1.0',''],{padding:4,tick:4,line:2});
  plot({l:982.3,r:1385,t:1047,b:1165},'scatter',{datasets:vio(fStage1)},{x:x1,y:y1});
  const x2=linAxis(.389,8.62,cx,eClusters,{tick:5,line:2,padding:4});
  const y2=linAxis(-.008,1.568,[0,.5,1,1.5],['0.0','0.5','1.0','1.5'],{padding:4,tick:4,line:2});
  plot({l:982.3,r:1385,t:1182.4,b:1296},'scatter',{datasets:vio(fStage2)},{x:x2,y:y2});
  txt('f',888,1040,{size:33});
  txt('Stage1',921,1112,{rot:-90});txt('Stage2',921,1252,{rot:-90});
}
/* ---------- panel g ---------- */
{
  const xy=a=>a.map((y,i)=>({x:i+1,y}));
  const ds=[[gG4,NPG.G4],[gG3,NPG.G3],[gG2,NPG.G2],[gG1,NPG.G1],[gG0,NPG.G0]].map(([a,c])=>({data:xy(a),backgroundColor:c,barThickness:67,borderWidth:0}));
  const x=linAxis(.416,3.6,[1,2,3],gCategories,{tick:12,rot:45,italic:true,padding:14,labelOffset:11});x.stacked=true;
  const y=linAxis(-.0507,1.05,[0,.25,.5,.75,1],['0.00','0.25','0.50','0.75','1.00'],{padding:6,tick:5,labelOffset:10});y.stacked=true;
  plot({l:127.4,r:364.8,t:1457.5,b:1770},'bar',{datasets:ds},{x,y});
  txt('g',25,1385,{size:33});txt('Muench et al., 2020',245,1420,{size:TS});
  txt('Fraction of cells',53.3,1614,{rot:-90,size:20});
  txt('cluster',395.6,1536);
  [['G0',1557.6],['G1',1582],['G2',1606.7],['G3',1631],['G4',1655.8]].forEach(([g,t])=>{sq(366.4,t,389.4,t+22.4,NPG[g]);txt(g,403,t+11.5,{align:'left'});});

  const gridCfg=()=>({color:c=>Number.isInteger(c.tick.value)?'rgba(0,0,0,0)':'#bdbdbd',lineWidth:2.5,drawTicks:false,drawOnChartArea:true});
  const edgeTicks=n=>{const a=[];for(let i=-.5;i<=n-.5;i+=.5)a.push(i);return a;};
  const lab=(names,n)=>edgeTicks(n).map(v=>Number.isInteger(v)?names[v]:'');
  const bub=(arr)=>[{data:arr.map(([x,y,,r])=>({x,y,r})),backgroundColor:arr.map(d=>ramp(Blues,d[2])),borderWidth:0}];
  plot({l:563,r:777,t:1463,b:1880.4},'bubble',{datasets:bub(gDots)},{
    x:linAxis(-.5,4.5,edgeTicks(5),lab(gDotCols,5),{position:'top',tick:0,padding:9,grid:gridCfg(),noBorder:true}),
    y:linAxis(-.5,9.5,edgeTicks(10),lab(gDotRows,10),{reverse:true,tick:0,padding:9,labelOffset:-3,grid:gridCfg(),noBorder:true})});
  colorbar({l:791.5,r:808,t:1463,b:1880},0,1,Blues,[0,.2,.4,.6,.8,1],['0','0.2','0.4','0.6','0.8','1'],{padding:1,tick:4,frame:true});
  txt('Proportion',864,1671,{rot:-90});
}
/* ---------- panel h ---------- */
{
  const gridCfg=()=>({color:c=>Number.isInteger(c.tick.value)?'rgba(0,0,0,0)':'#bdbdbd',lineWidth:2.5,drawTicks:false,drawOnChartArea:true});
  const e=[];for(let i=-.5;i<=3.5;i+=.5)e.push(i);
  const lab=names=>e.map(v=>Number.isInteger(v)?names[v]:'');
  plot({l:1036,r:1212.6,t:1508.7,b:1679.3},'bubble',{datasets:[{data:hDots.map(([x,y,,r])=>({x,y,r})),backgroundColor:hDots.map(d=>ramp(Blues,d[2])),borderWidth:0}]},{
    x:linAxis(-.5,3.5,e,lab(hCols),{position:'top',tick:0,padding:10,labelOffset:5,grid:gridCfg(),noBorder:true}),
    y:linAxis(-.5,3.5,e,lab(hRows),{reverse:true,tick:0,padding:8,labelOffset:-3,grid:gridCfg(),noBorder:true})});
  txt('h',929,1380,{size:33});txt('Kwok et al., 2020',1123,1423.5,{size:TS});
  txt('Proportion',1123,1709);
  colorbar({l:1041.5,r:1207.4,t:1725,b:1736.7},0,1,Blues,[0,.2,.4,.6,.8,1],['0','0.2','0.4','0.6','0.8','1'],{horizontal:true,padding:1,tick:3,frame:true});
}
</script>
</body></html>
